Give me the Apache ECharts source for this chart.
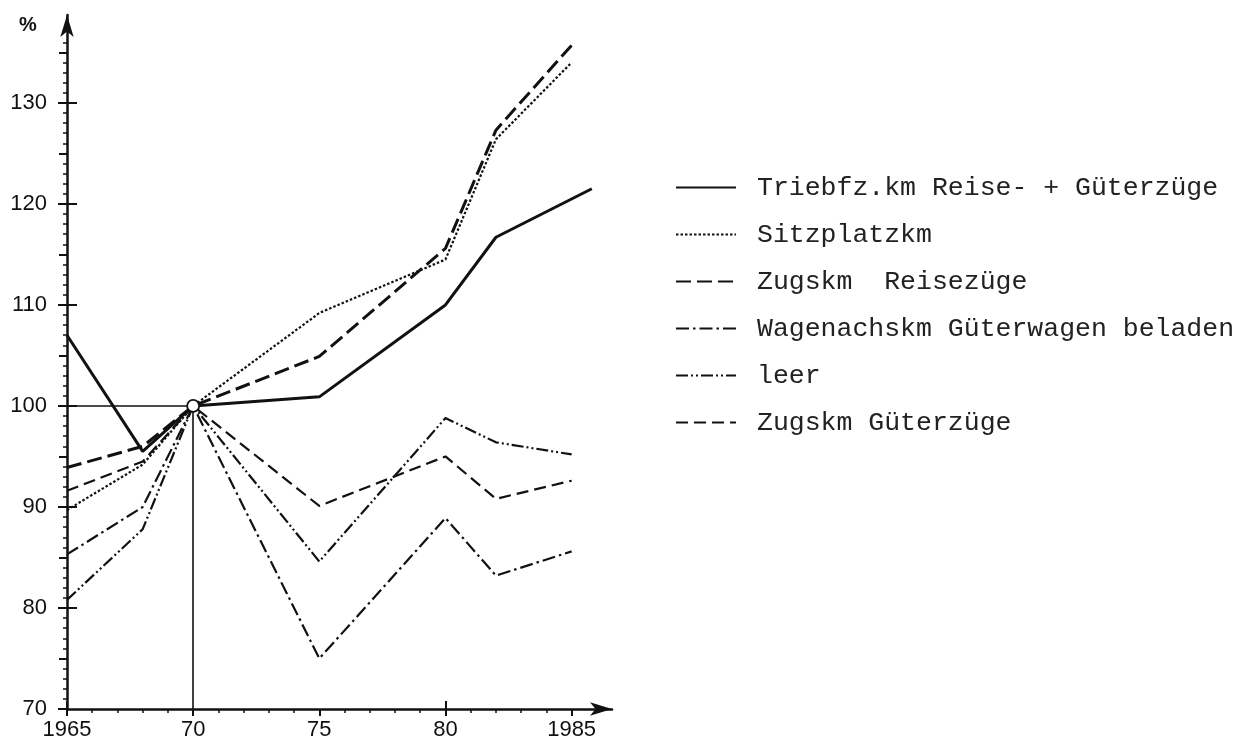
<!DOCTYPE html>
<html>
<head>
<meta charset="utf-8">
<script src="https://cdn.jsdelivr.net/npm/echarts@6/dist/echarts.min.js"></script>
<style>
  html, body { margin: 0; padding: 0; background: #fff; }
  #chart { width: 1256px; height: 746px; }
</style>
</head>
<body>
<div id="chart"></div>
<script>
// years of the measurements
const years = [1965, 1968, 1970, 1975, 1980, 1982, 1985];
// the solid line runs a bit past 1985
const yearsTriebfz = [1965, 1968, 1970, 1975, 1980, 1982, 1985.8];

const triebfz = [107.0, 95.5, 100, 100.9, 110.0, 116.7, 121.5];
const sitzplatz = [89.7, 94.2, 100, 109.2, 114.5, 126.4, 134.0];
const reisezuege = [93.9, 96.0, 100, 104.9, 115.6, 127.3, 135.7];
const beladen = [85.3, 90.0, 100, 75.0, 88.9, 83.2, 85.6];
const leer = [80.8, 87.8, 100, 84.6, 98.8, 96.4, 95.2];
const gueterzuege = [91.6, 94.5, 100, 90.1, 95.0, 90.8, 92.6];

const seriesNames = [
  "Triebfz.km Reise- + Güterzüge",
  "Sitzplatzkm",
  "Zugskm  Reisezüge",
  "Wagenachskm Güterwagen beladen",
  "leer",
  "Zugskm Güterzüge",
];

// tick labels
const xTickValues = [1965, 1970, 1975, 1980, 1985];
const xTickText = ["1965", "70", "75", "80", "1985"];
const yTickValues = [70, 80, 90, 100, 110, 120, 130];

// base point 1970 = 100 %
const baseYear = 1970;
const baseValue = 100;
const xMin = 1965, xMax = 1986.6;
const yMin = 70, yMax = 138.7;

const ink = "#111";

const pairs = (xs, ys) => xs.map((x, i) => [x, ys[i]]);
const range = (a, b, step) => {
  const out = [];
  for (let v = a; v <= b; v += step) out.push(v);
  return out;
};

const lineSeries = (name, data, type, width) => ({
  name,
  type: "line",
  data,
  symbol: "circle",
  showSymbol: false,
  smooth: false,
  lineStyle: { color: ink, width, type, cap: "butt" },
  itemStyle: { color: ink },
  z: 3,
});

const chart = echarts.init(document.getElementById("chart"), null, { renderer: "canvas" });

// extra axes that only draw tick marks
const tickY = (values, length, inside) => ({
  type: "value",
  position: "left",
  offset: 0,
  min: yMin,
  max: yMax,
  axisLine: { show: false },
  axisLabel: { show: false },
  splitLine: { show: false },
  axisTick: { show: true, inside, length, customValues: values, lineStyle: { color: ink, width: length > 5 ? 2 : 1.5 } },
});
const tickX = (values, length, inside) => ({
  type: "value",
  position: "bottom",
  offset: 0,
  min: xMin,
  max: xMax,
  axisLine: { show: false },
  axisLabel: { show: false },
  splitLine: { show: false },
  axisTick: { show: true, inside, length, customValues: values, lineStyle: { color: ink, width: length > 5 ? 2 : 1.5 } },
});

const option = {
  backgroundColor: "#fff",
  animation: false,
  title: {
    text: "%",
    left: 14,
    top: 10,
    textStyle: { fontFamily: "Liberation Sans", fontSize: 20, fontWeight: "bold", color: ink },
  },
  grid: { left: 67, top: 15, right: 644, bottom: 37 },
  legend: {
    orient: "vertical",
    left: 675,
    top: 174,
    padding: 0,
    itemWidth: 60,
    itemHeight: 14,
    itemGap: 20,
    data: seriesNames,
    itemStyle: { opacity: 0 },
    textStyle: {
      fontFamily: "Liberation Mono",
      fontSize: 26.5,
      lineHeight: 27,
      color: "#222",
      padding: [0, 0, 0, 16],
    },
  },
  xAxis: [
    {
      type: "value",
      min: xMin,
      max: xMax,
      axisLine: {
        lineStyle: { color: ink, width: 2.5 },
        symbol: ["none", "arrow"],
        symbolSize: [10, 22],
      },
      axisTick: { length: 7, customValues: xTickValues, lineStyle: { color: ink, width: 2 } },
      splitLine: { show: false },
      axisLabel: {
        margin: 10,
        fontFamily: "Liberation Sans",
        fontSize: 22,
        color: ink,
        customValues: xTickValues,
        formatter: (v) => xTickText[xTickValues.indexOf(v)] || "",
      },
    },
    tickX(range(1966, 1984, 1), 4, false),
    tickX([1965, 1980], 8, true),
  ],
  yAxis: [
    {
      type: "value",
      position: "left",
      min: yMin,
      max: yMax,
      axisLine: {
        show: true,
        lineStyle: { color: ink, width: 2.5 },
        symbol: ["none", "arrow"],
        symbolSize: [10, 22],
      },
      axisTick: { length: 9, customValues: yTickValues, lineStyle: { color: ink, width: 2 } },
      splitLine: { show: false },
      axisLabel: {
        margin: 20,
        fontFamily: "Liberation Sans",
        fontSize: 22,
        color: ink,
        customValues: yTickValues,
        formatter: (v) => String(v),
      },
    },
    tickY(range(71, 136, 1), 4, false),
    tickY(range(75, 135, 10), 8, false),
    tickY(yTickValues.slice(1), 10, true),
  ],
  series: [
    lineSeries(seriesNames[0], pairs(yearsTriebfz, triebfz), "solid", 3),
    lineSeries(seriesNames[1], pairs(years, sitzplatz), [2.5, 2], 2.2),
    lineSeries(seriesNames[2], pairs(years, reisezuege), [15, 6], 3),
    lineSeries(seriesNames[3], pairs(years, beladen), [13, 4, 2.5, 4], 2.2),
    lineSeries(seriesNames[4], pairs(years, leer), [12, 3, 2, 3, 2, 3], 2.2),
    lineSeries(seriesNames[5], pairs(years, gueterzuege), [12, 6], 2.2),
    {
      name: "base",
      type: "scatter",
      data: [[baseYear, baseValue]],
      symbol: "circle",
      symbolSize: 12,
      itemStyle: { color: "#fff", borderColor: ink, borderWidth: 1.8, opacity: 1 },
      z: 5,
      markLine: {
        silent: true,
        symbol: "none",
        label: { show: false },
        lineStyle: { color: ink, width: 1.6, type: "solid" },
        data: [
          [{ coord: [xMin, baseValue] }, { coord: [baseYear, baseValue] }],
          [{ coord: [baseYear, yMin] }, { coord: [baseYear, baseValue] }],
        ],
      },
    },
  ],
};

chart.setOption(option);
</script>
</body>
</html>
